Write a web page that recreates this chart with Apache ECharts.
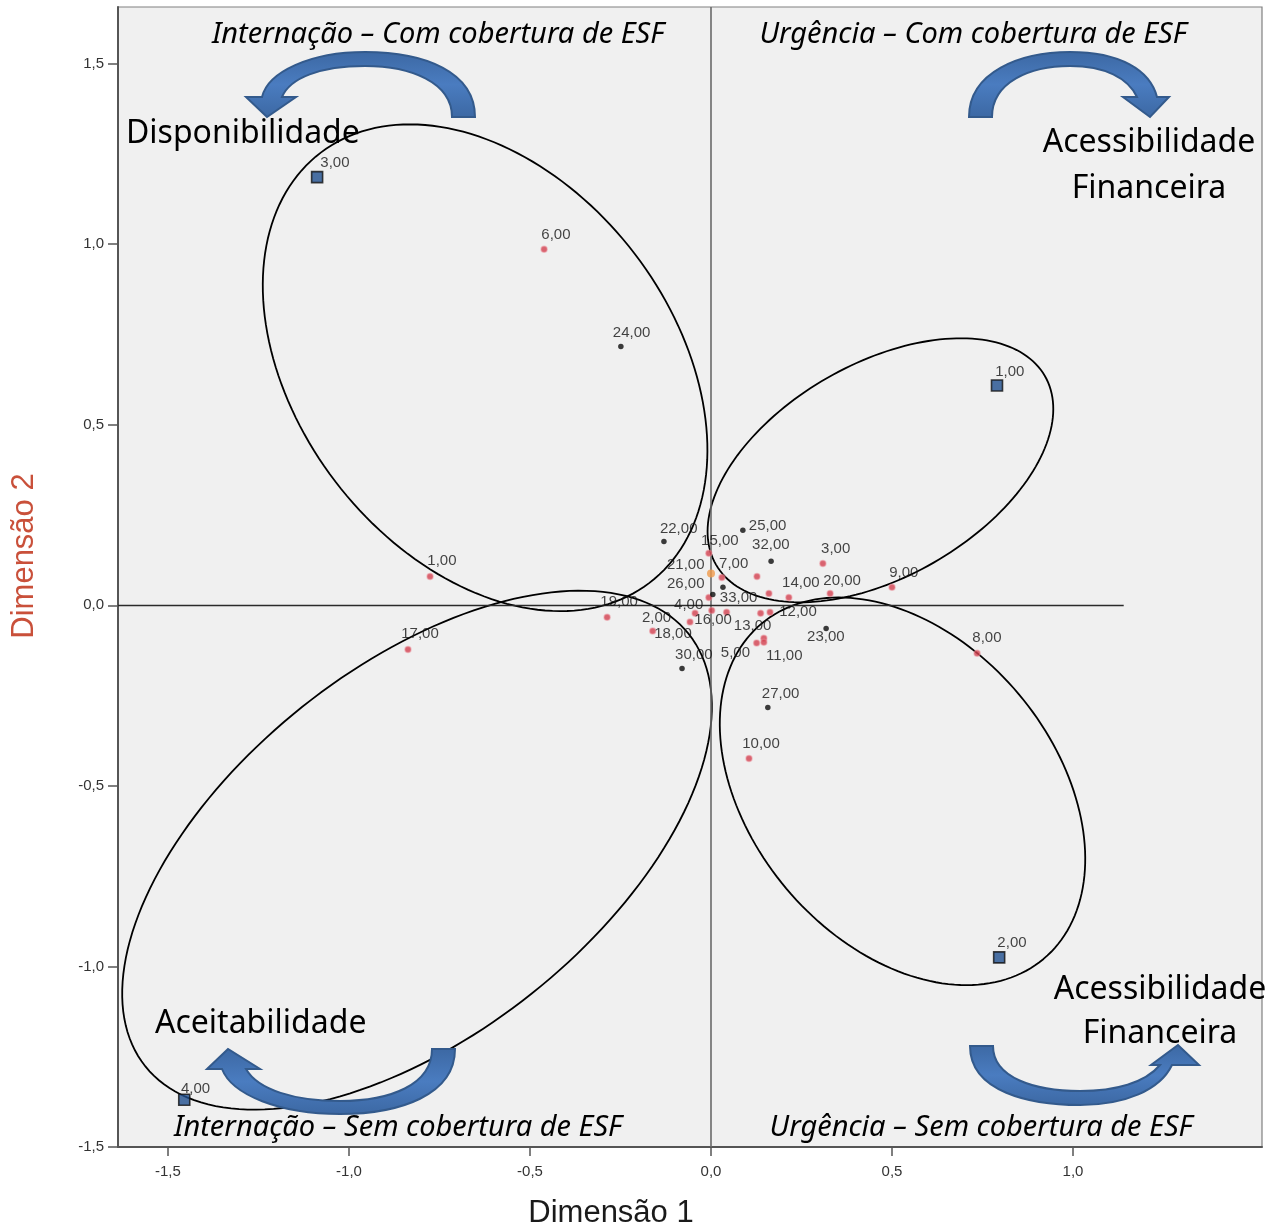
<!DOCTYPE html>
<html>
<head>
<meta charset="utf-8">
<script src="https://cdn.jsdelivr.net/npm/echarts@6/dist/echarts.min.js"></script>
<style>
html,body{margin:0;padding:0;background:#fff;}
#chart{width:1275px;height:1227px;}
</style>
</head>
<body>
<div id="chart"></div>
<script>
// ---- data ----
const xTicks = [-1.5, -1.0, -0.5, 0.0, 0.5, 1.0];
const yTicks = [-1.5, -1.0, -0.5, 0.0, 0.5, 1.0, 1.5];

const squareNames = ['1,00', '2,00', '3,00', '4,00'];
const squareX = [0.790, 0.796, -1.088, -1.455];
const squareY = [0.609, -0.975, 1.186, -1.369];

const redNames = ['1,00','2,00','3,00','4,00','5,00','6,00','7,00','8,00','9,00','10,00','11,00','12,00','13,00','14,00','15,00','16,00','17,00','18,00','19,00','20,00','','','','',''];
const redX = [-0.776, -0.161, 0.309, -0.006, 0.126, -0.461, 0.030, 0.735, 0.500, 0.105, 0.146, 0.163, 0.137, 0.215, -0.006, -0.044, -0.837, -0.058, -0.287, 0.329, 0.127, 0.160, 0.043, 0.002, 0.146];
const redY = [0.080, -0.071, 0.116, 0.022, -0.104, 0.986, 0.077, -0.133, 0.050, -0.424, -0.091, -0.019, -0.022, 0.022, 0.144, -0.022, -0.122, -0.046, -0.033, 0.033, 0.080, 0.033, -0.019, -0.014, -0.102];

const blackNames = ['22,00','23,00','24,00','25,00','26,00','27,00','30,00','32,00','33,00'];
const blackX = [-0.130, 0.318, -0.249, 0.088, 0.033, 0.157, -0.080, 0.166, 0.005];
const blackY = [0.177, -0.064, 0.717, 0.208, 0.050, -0.283, -0.175, 0.122, 0.030];

const orangeNames = ['21,00'];
const orangeX = [0.000];
const orangeY = [0.088];

// annotation ellipses: [centerX, centerY, semiMajor, semiMinor, angleDeg] in data units
const ellipses = [
  [-0.624, 0.658, 0.749, 0.520, -52.7],
  [0.468, 0.374, 0.524, 0.295, 29.9],
  [-0.812, -0.678, 0.960, 0.508, 38.6],
  [0.529, -0.515, 0.606, 0.419, -50.0]
];

// ---- decoration: curved block arrows (pixel paths) ----
const arrowPaths = [
  'M 475 117 C 475 72 425 52 365 52 C 310 52 268 72 262 97 L 246 97 L 267 117 L 296 97 L 282 97 C 290 78 320 66 365 66 C 410 66 452 82 452 117 Z',
  'M 969 117 C 969 72 1020 52 1070 52 C 1120 52 1150 70 1157 97 L 1169 97 L 1150 117 L 1123 97 L 1137 97 C 1128 78 1105 66 1070 66 C 1030 66 992 82 992 117 Z',
  'M 455 1049 C 455 1095 400 1114 340 1114 C 280 1114 232 1095 222 1069 L 207 1069 L 228 1049 L 260 1069 L 246 1069 C 258 1090 295 1101 340 1101 C 390 1101 432 1085 432 1049 Z',
  'M 970 1046 C 970 1092 1030 1105 1080 1105 C 1125 1105 1160 1090 1172 1065 L 1199 1065 L 1178 1045 L 1151 1065 L 1160 1065 C 1145 1083 1115 1091 1080 1091 C 1035 1091 993 1078 993 1046 Z'
];

// ---- label placement (style, pixels: label left / middle relative to point) ----
const labelNudge = {
  sq: {'1,00':[-1,-12.5],'2,00':[-1,-13.5],'3,00':[4,-13],'4,00':[-2.5,-10]},
  red: {'1,00':[-2,-14.5],'2,00':[-10,-12],'3,00':[-1,-14],'4,00':[-34,8],'5,00':[-35,11],'6,00':[-2,-13.5],
        '7,00':[-2,-13],'8,00':[-4,-14.5],'9,00':[-2,-13.5],'10,00':[-6,-13.5],'11,00':[3,18],'12,00':[10,0.5],
        '13,00':[-26,13.5],'14,00':[-6,-13.5],'15,00':[-7,-12],'16,00':[0,7],'17,00':[-6,-14.5],'18,00':[-35,13],
        '19,00':[-6,-14.5],'20,00':[-6,-12]},
  black: {'22,00':[-4,-12.5],'23,00':[-19,8.5],'24,00':[-8,-13.5],'25,00':[6,-4],'26,00':[-56,-3],
          '27,00':[-6,-13.5],'30,00':[-7,-14],'32,00':[-19,-16.5],'33,00':[7,3]},
  orange: {'21,00':[-44,-9]}
};

function build(names, xs, ys, key, size) {
  return names.map((n, i) => {
    const d = (labelNudge[key] && labelNudge[key][n]) || [-4, -13.5];
    return {
      name: n,
      value: [xs[i], ys[i]],
      label: { show: n !== '', position: [d[0] + size / 2, d[1] + size / 2] }
    };
  });
}

const fmt = v => (Math.round(v * 10) / 10).toFixed(1).replace('.', ',');
const labelStyle = {
  show: true, formatter: p => p.name, color: '#141414',
  fontFamily: 'Liberation Sans', fontSize: 15, align: 'left', verticalAlign: 'middle'
};

const chart = echarts.init(document.getElementById('chart'), null, {renderer: 'canvas'});

const arrowStyle = {
  fill: new echarts.graphic.LinearGradient(0, 0, 0, 1, [
    {offset: 0, color: '#3c68a3'}, {offset: 0.5, color: '#4a7cc0'}, {offset: 1, color: '#3c68a3'}
  ]),
  stroke: '#335a8c', lineWidth: 2
};
const titleFont = 'italic 29px "Noto Sans"';
const bigFont = '32px "Noto Sans"';

function txt(x, y, text, font, align, extra) {
  return Object.assign({type: 'text', z: 101, style: {x: x, y: y, text: text, font: font, fill: '#000', textAlign: align, textVerticalAlign: 'middle'}}, extra || {});
}

const option = {
  animation: false,
  backgroundColor: '#ffffff',
  grid: {
    left: 118, right: 13, top: 7, bottom: 80,
    show: true, backgroundColor: '#f0f0f0', borderColor: '#808080', borderWidth: 1.2
  },
  xAxis: {
    type: 'value', min: -1.638, max: 1.522,
    axisLine: {show: true, onZero: false, lineStyle: {color: '#555', width: 2}},
    axisTick: {show: true, length: 9, customValues: xTicks, lineStyle: {color: '#555', width: 1.5}},
    axisLabel: {customValues: xTicks, formatter: fmt, margin: 17, color: '#333', fontFamily: 'Liberation Sans', fontSize: 15},
    splitLine: {show: false}
  },
  yAxis: {
    type: 'value', min: -1.5, max: 1.657,
    axisLine: {show: true, onZero: false, lineStyle: {color: '#555', width: 2}},
    axisTick: {show: true, length: 10, customValues: yTicks, lineStyle: {color: '#555', width: 1.5}},
    axisLabel: {customValues: yTicks, formatter: fmt, margin: 14, color: '#333', fontFamily: 'Liberation Sans', fontSize: 15},
    splitLine: {show: false}
  },
  series: [
    {
      type: 'custom', name: 'ellipses', coordinateSystem: 'cartesian2d', silent: true, clip: false, z: 4,
      data: ellipses,
      renderItem: function (params, api) {
        const cx = api.value(0), cy = api.value(1), a = api.value(2), b = api.value(3);
        const ang = api.value(4) * Math.PI / 180;
        const pts = [];
        for (let i = 0; i < 180; i++) {
          const t = i / 180 * Math.PI * 2;
          const dx = a * Math.cos(t), dy = b * Math.sin(t);
          pts.push(api.coord([cx + dx * Math.cos(ang) - dy * Math.sin(ang), cy + dx * Math.sin(ang) + dy * Math.cos(ang)]));
        }
        return {type: 'polygon', shape: {points: pts}, style: {fill: 'none', stroke: '#000', lineWidth: 1.8}};
      }
    },
    {
      type: 'custom', name: 'arrows', coordinateSystem: 'none', silent: true, clip: false, z: 20,
      data: [0],
      renderItem: function () {
        return {
          type: 'group',
          children: arrowPaths.map(d => ({type: 'path', shape: {pathData: d}, style: arrowStyle}))
        };
      }
    },
    {
      type: 'scatter', name: 'ref', silent: true, z: 2, data: [],
      markLine: {
        silent: true, symbol: 'none', animation: false, label: {show: false},
        data: [
          [{coord: [0, -1.5], lineStyle: {color: '#6a6a6a', width: 1.6, type: 'solid'}}, {coord: [0, 1.657]}],
          [{coord: [-1.638, 0], lineStyle: {color: '#2a2a2a', width: 1.3, type: 'solid'}}, {coord: [1.14, 0]}]
        ]
      }
    },
    {
      type: 'scatter', name: 'red', z: 5, symbol: 'circle', symbolSize: 6,
      itemStyle: {color: '#d2404f', borderColor: 'rgba(235,140,150,0.6)', borderWidth: 1.5},
      label: labelStyle, emphasis: {disabled: true},
      data: build(redNames, redX, redY, 'red', 6)
    },
    {
      type: 'scatter', name: 'black', z: 6, symbol: 'circle', symbolSize: 5.5,
      itemStyle: {color: '#0c0c0c'},
      label: labelStyle, emphasis: {disabled: true},
      data: build(blackNames, blackX, blackY, 'black', 5.5)
    },
    {
      type: 'scatter', name: 'orange', z: 6, symbol: 'circle', symbolSize: 8,
      itemStyle: {color: '#f09a4a'},
      label: labelStyle, emphasis: {disabled: true},
      data: build(orangeNames, orangeX, orangeY, 'orange', 8)
    },
    {
      type: 'scatter', name: 'squares', z: 7, symbol: 'rect', symbolSize: 11,
      itemStyle: {color: '#1f4f8f', borderColor: '#111', borderWidth: 1.6},
      label: labelStyle, emphasis: {disabled: true},
      data: build(squareNames, squareX, squareY, 'sq', 11)
    }
  ],
  graphic: [
    txt(438, 35, 'Internação – Com cobertura de ESF', titleFont, 'center'),
    txt(973, 35, 'Urgência – Com cobertura de ESF', titleFont, 'center'),
    txt(398, 1128, 'Internação – Sem cobertura de ESF', titleFont, 'center'),
    txt(981, 1128, 'Urgência – Sem cobertura de ESF', titleFont, 'center'),
    txt(126, 134, 'Disponibilidade', bigFont, 'left'),
    txt(1149, 143, 'Acessibilidade', bigFont, 'center'),
    txt(1149, 189, 'Financeira', bigFont, 'center'),
    txt(155, 1024, 'Aceitabilidade', bigFont, 'left'),
    txt(1160, 990, 'Acessibilidade', bigFont, 'center'),
    txt(1160, 1034, 'Financeira', bigFont, 'center'),
    {type: 'text', z: 101, style: {x: 611, y: 1213, text: 'Dimensão 1', font: '31px "Liberation Sans"', fill: '#1a1a1a', textAlign: 'center', textVerticalAlign: 'middle'}},
    {type: 'text', z: 101, x: 24, y: 556, rotation: Math.PI / 2, style: {x: 0, y: 0, text: 'Dimensão 2', font: '31px "Liberation Sans"', fill: '#c9503a', textAlign: 'center', textVerticalAlign: 'middle'}}
  ]
};

chart.setOption(option);
</script>
</body>
</html>
